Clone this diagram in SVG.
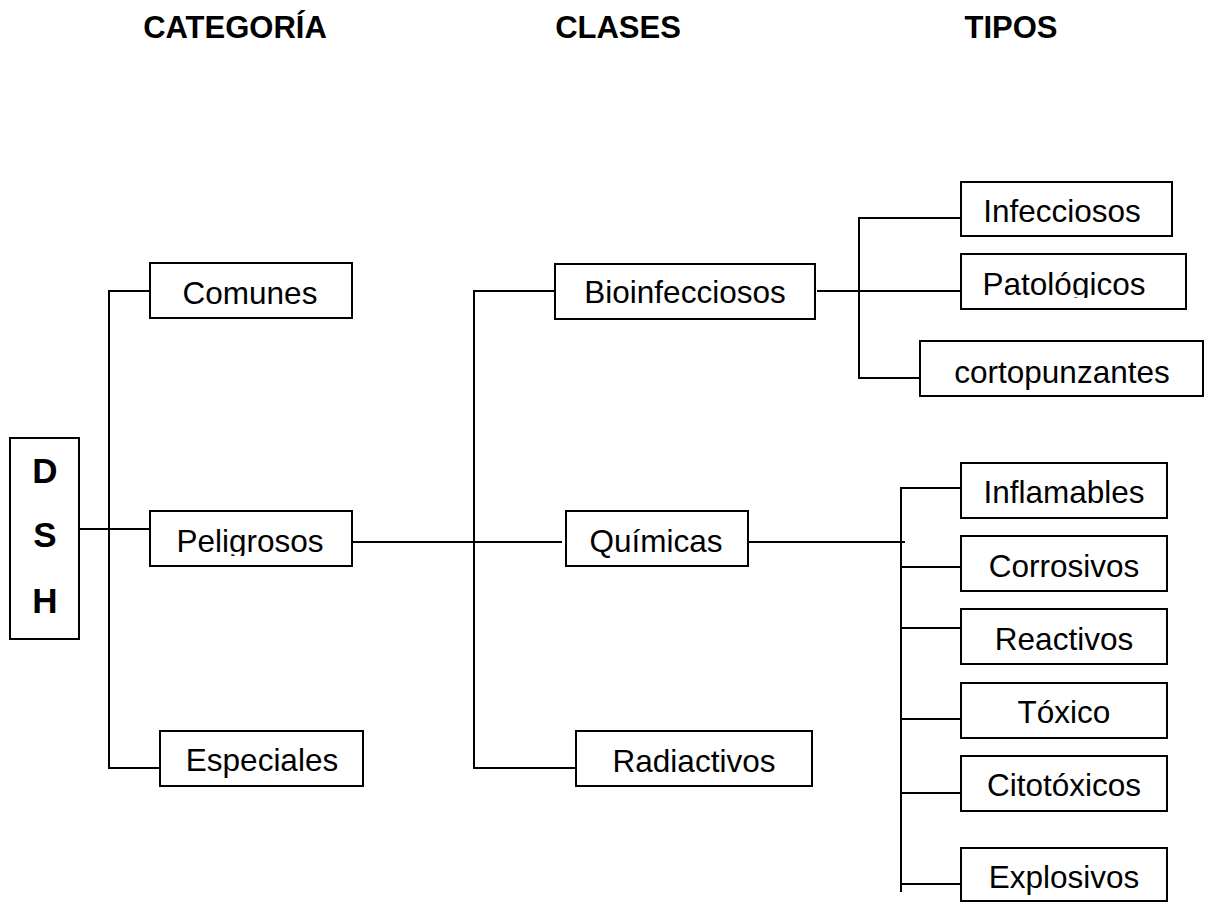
<svg xmlns="http://www.w3.org/2000/svg" width="1205" height="902" viewBox="0 0 1205 902">
<style>
.box{fill:#fff;stroke:#000;stroke-width:2}
.ln{fill:none;stroke:#000;stroke-width:2}
.t{font-family:"Liberation Sans",Arial,sans-serif;font-size:31.5px;fill:#000;text-anchor:middle}
.h{font-family:"Liberation Sans",Arial,sans-serif;font-size:31px;font-weight:bold;fill:#000;text-anchor:middle}
.d{font-family:"Liberation Sans",Arial,sans-serif;font-size:35px;font-weight:bold;fill:#000;text-anchor:middle}
</style>
<defs>
<clipPath id="clipPel"><rect x="150" y="500" width="210" height="56"/></clipPath>
<clipPath id="clipPat"><rect x="960" y="250" width="230" height="48"/></clipPath>
</defs>
<rect width="1205" height="902" fill="#fff"/>
<g id="titles">
<text class="h" x="235" y="38">CATEGORÍA</text>
<text class="h" x="618" y="38">CLASES</text>
<text class="h" x="1011" y="38">TIPOS</text>
</g>
<g id="connectors">
<path class="ln" d="M79,529 H150"/>
<path class="ln" d="M150,291 H109 V768 H160"/>
<path class="ln" d="M348,542 H562"/>
<path class="ln" d="M555,291 H474 V768 H576"/>
<path class="ln" d="M746,542 H905"/>
<path class="ln" d="M817,291 H961"/>
<path class="ln" d="M961,218 H859 V378 H920"/>
<path class="ln" d="M961,488 H901 V892"/>
<path class="ln" d="M901,567 H961"/>
<path class="ln" d="M901,628 H961"/>
<path class="ln" d="M901,719 H961"/>
<path class="ln" d="M901,793 H961"/>
<path class="ln" d="M901,884 H961"/>
</g>
<g id="dsh">
<rect class="box" x="10" y="438" width="69" height="201"/>
<text class="d" x="45" y="483">D</text>
<text class="d" x="45" y="547">S</text>
<text class="d" x="45" y="613">H</text>
</g>
<g id="comunes"><rect class="box" x="150" y="263" width="202" height="55"/><text class="t" x="250" y="304">Comunes</text></g>
<g id="peligrosos"><rect class="box" x="150" y="511" width="202" height="55"/><text class="t" x="250" y="552" clip-path="url(#clipPel)">Peligrosos</text></g>
<g id="especiales"><rect class="box" x="160" y="731" width="203" height="55"/><text class="t" x="262" y="771">Especiales</text></g>
<g id="bioinfecciosos"><rect class="box" x="555" y="264" width="260" height="55"/><text class="t" x="685" y="303">Bioinfecciosos</text></g>
<g id="quimicas"><rect class="box" x="566" y="511" width="182" height="55"/><text class="t" x="656" y="552">Químicas</text></g>
<g id="radiactivos"><rect class="box" x="576" y="731" width="236" height="55"/><text class="t" x="694" y="772">Radiactivos</text></g>
<g id="infecciosos"><rect class="box" x="961" y="182" width="211" height="54"/><text class="t" x="1062" y="222">Infecciosos</text></g>
<g id="patologicos"><rect class="box" x="961" y="254" width="225" height="55"/><text class="t" x="1064" y="295" clip-path="url(#clipPat)">Patológicos</text></g>
<g id="cortopunzantes"><rect class="box" x="920" y="341" width="283" height="55"/><text class="t" x="1062" y="383">cortopunzantes</text></g>
<g id="inflamables"><rect class="box" x="961" y="463" width="206" height="55"/><text class="t" x="1064" y="503">Inflamables</text></g>
<g id="corrosivos"><rect class="box" x="961" y="536" width="206" height="55"/><text class="t" x="1064" y="577">Corrosivos</text></g>
<g id="reactivos"><rect class="box" x="961" y="609" width="206" height="55"/><text class="t" x="1064" y="650">Reactivos</text></g>
<g id="toxico"><rect class="box" x="961" y="683" width="206" height="55"/><text class="t" x="1064" y="723">Tóxico</text></g>
<g id="citotoxicos"><rect class="box" x="961" y="756" width="206" height="55"/><text class="t" x="1064" y="796">Citotóxicos</text></g>
<g id="explosivos"><rect class="box" x="961" y="848" width="206" height="53"/><text class="t" x="1064" y="888">Explosivos</text></g>
</svg>
